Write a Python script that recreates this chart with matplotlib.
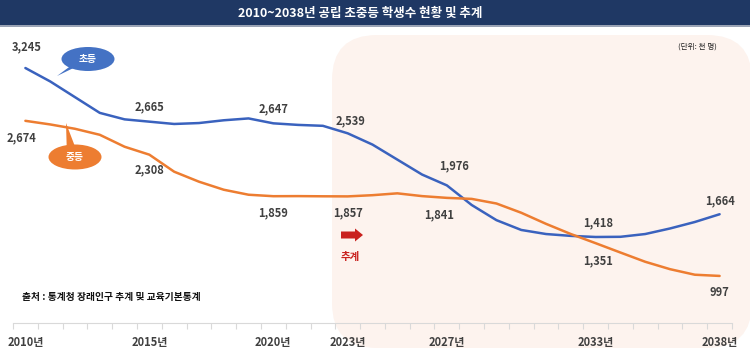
import numpy as np
import matplotlib
matplotlib.use("Agg")
from matplotlib import pyplot as plt
from matplotlib.patches import FancyBboxPatch, Ellipse, Polygon, FancyArrow

plt.rcParams['font.family'] = ['Noto Sans CJK KR', 'DejaVu Sans']

# data (천 명)
years = list(range(2010, 2039))
elem = [3245, 3100, 2930, 2760, 2690, 2665, 2640, 2650, 2680, 2700,
        2647, 2630, 2620, 2539, 2417, 2255, 2093, 1976, 1764, 1600,
        1494, 1450, 1430, 1418, 1420, 1450, 1510, 1580, 1664]
mid = [2674, 2635, 2588, 2523, 2394, 2308, 2124, 2016, 1929, 1875,
       1859, 1860, 1858, 1857, 1870, 1890, 1860, 1841, 1830, 1780,
       1680, 1560, 1450, 1351, 1250, 1150, 1070, 1010, 997]
tick_years = [2010, 2015, 2020, 2023, 2027, 2033, 2038]
# label offsets: (category shift, points)
elem_labels = {2010: (0.05, 15), 2015: (0, 11), 2020: (0, 10.5), 2023: (0.1, 9),
               2027: (0.3, 14), 2033: (0.1, 10.5), 2038: (0, 10)}
mid_labels = {2010: (-0.15, -12), 2015: (0, -11), 2020: (0, -12), 2023: (0, -12),
              2027: (-0.3, -12.5), 2033: (0.1, -12.5), 2038: (0, -12)}

W, H = 750, 350
fig = plt.figure(figsize=(7.5, 3.5), dpi=100)

def fx(px):
    return px / W

def fy(py):
    return 1 - py / H

# projection area background
fig.patches.append(FancyBboxPatch((fx(332), fy(348)), fx(420), (348 - 35) / H,
                                  boxstyle="round,pad=0,rounding_size=0.06",
                                  transform=fig.transFigure, fc='#FDF3EE', ec='none',
                                  mutation_aspect=W / H, zorder=-2))

# title bar
fig.patches.append(plt.Rectangle((0, fy(27)), 1, 2 / H, transform=fig.transFigure,
                                 fc='#9AA3B5', ec='none', zorder=-1))
fig.patches.append(plt.Rectangle((0, fy(25)), 1, 25 / H, transform=fig.transFigure,
                                 fc='#1F3864', ec='none', zorder=-1))
fig.text(fx(360), fy(13), "2010~2038년 공립 초중등 학생수 현황 및 추계", color='white',
         fontsize=9, fontweight='bold', ha='center', va='center')

ax = fig.add_axes([fx(13), fy(323), fx(732 - 13), (323 - 40) / H])
ax.set_zorder(1)
ax.patch.set_alpha(0)
x = np.arange(len(years))
ax.plot(x, elem, color='#3A62BE', lw=1.8, solid_capstyle='round', solid_joinstyle='round')
ax.plot(x, mid, color='#ED7D31', lw=1.8, solid_capstyle='round', solid_joinstyle='round')
ax.set_xlim(-0.5, len(years) - 0.5)
ax.set_ylim(488, 3548)

for s in ['top', 'right', 'left']:
    ax.spines[s].set_visible(False)
ax.spines['bottom'].set_color('#D9D9D9')
ax.set_yticks([])
ax.set_xticks(np.arange(len(years) + 1) - 0.5)
ax.set_xticklabels([])
ax.tick_params(axis='x', length=4, color='#D9D9D9', width=0.8)
for yr in tick_years:
    ax.text(years.index(yr), -0.045, f"{yr}년", transform=ax.get_xaxis_transform(),
            ha='center', va='top', fontsize=8, fontweight='bold', color='#404040')

for yr, (dx, dy) in elem_labels.items():
    i = years.index(yr)
    ax.annotate(f"{elem[i]:,}", (i + dx, elem[i]), xytext=(0, dy), textcoords='offset points',
                ha='center', va='center', fontsize=8, fontweight='bold', color='#404040')
for yr, (dx, dy) in mid_labels.items():
    i = years.index(yr)
    ax.annotate(f"{mid[i]:,}", (i + dx, mid[i]), xytext=(0, dy), textcoords='offset points',
                ha='center', va='center', fontsize=8, fontweight='bold', color='#404040')

# speech bubbles
def bubble(cx, cy, w, h, tail, color, label):
    fig.patches.append(Polygon([(fx(cx - 8), fy(cy)), (fx(cx + 4), fy(cy)), (fx(tail[0]), fy(tail[1]))],
                               closed=True, transform=fig.transFigure, fc=color, ec='none', zorder=3))
    fig.patches.append(Ellipse((fx(cx), fy(cy)), fx(w), h / H, transform=fig.transFigure,
                               fc=color, ec='none', zorder=3))
    fig.text(fx(cx), fy(cy), label, color='white', fontsize=7, fontweight='bold',
             ha='center', va='center', zorder=4)

bubble(88, 59, 53, 24, (57, 76), '#4472C4', "초등")
bubble(75, 157, 53, 25, (66, 123), '#ED7D31', "중등")

# projection arrow
fig.patches.append(FancyArrow(fx(341), fy(235), fx(14), 0, width=7 / H, head_width=13 / H,
                              head_length=fx(8), length_includes_head=False,
                              transform=fig.transFigure, fc='#C9211E', ec='none', zorder=3))
fig.text(fx(350), fy(257), "추계", color='#C9211E', fontsize=7.5, fontweight='bold',
         ha='center', va='center')

fig.text(fx(697), fy(47), "(단위: 천 명)", color='#202020', fontsize=5.5, ha='center', va='center')
fig.text(fx(22), fy(297), "출처 : 통계청 장래인구 추계 및 교육기본통계", color='#111111',
         fontsize=7, fontweight='bold', ha='left', va='center')

fig.savefig('out.png', dpi=100)
